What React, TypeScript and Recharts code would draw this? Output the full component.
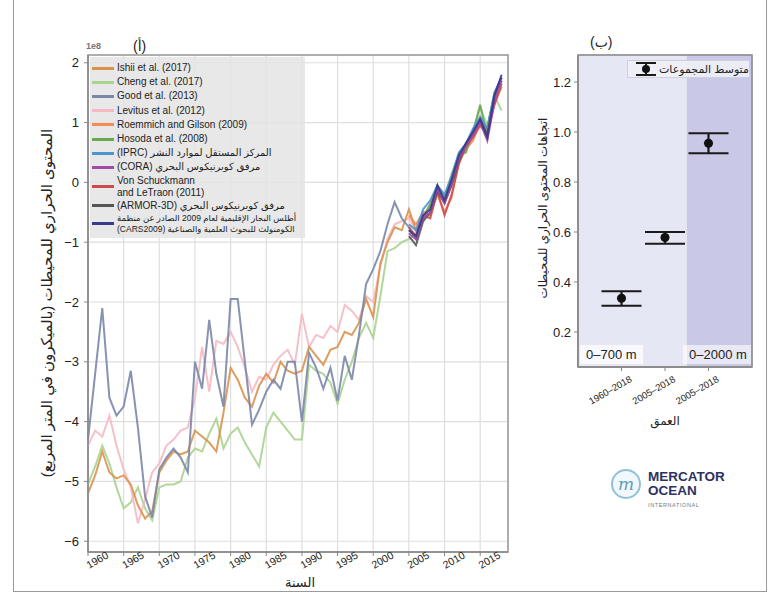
import React from "react";
import {
    LineChart, Line, XAxis, YAxis, CartesianGrid, ReferenceArea,
    ComposedChart, Scatter, ErrorBar,
} from "recharts";

const years = [
    1960, 1961, 1962, 1963, 1964, 1965, 1966, 1967, 1968, 1969,
    1970, 1971, 1972, 1973, 1974, 1975, 1976, 1977, 1978, 1979,
    1980, 1981, 1982, 1983, 1984, 1985, 1986, 1987, 1988, 1989,
    1990, 1991, 1992, 1993, 1994, 1995, 1996, 1997, 1998, 1999,
    2000, 2001, 2002, 2003, 2004, 2005, 2006, 2007, 2008, 2009,
    2010, 2011, 2012, 2013, 2014, 2015, 2016, 2017, 2018,
];

// long records, 1960-2018 (units of 1e8)
const ishii = [
    -5.2, -4.9, -4.5, -4.85, -4.95, -4.9, -5.05, -5.4, -5.62, -5.5,
    -4.85, -4.65, -4.5, -4.55, -4.5, -4.15, -4.25, -4.35, -4.5, -3.85,
    -3.1, -3.3, -3.6, -3.75, -3.4, -3.2, -3.35, -3.0, -3.15, -3.2,
    -3.15, -2.75, -2.9, -3.05, -2.8, -2.75, -2.5, -2.55, -2.35, -1.95,
    -2.25, -1.35, -1.0, -0.75, -0.8, -0.45, -0.8, -0.55, -0.4, -0.15,
    -0.3, 0.0, 0.4, 0.55, 0.8, 1.05, 0.85, 1.35, 1.6,
];
const cheng = [
    -5.05, -4.75, -4.4, -4.7, -5.1, -5.45, -5.35, -5.1, -5.45, -5.65,
    -5.1, -5.05, -5.05, -5.0, -4.6, -4.45, -4.5, -4.2, -3.95, -4.45,
    -4.2, -4.1, -4.35, -4.55, -4.75, -4.1, -3.85, -4.0, -4.15, -4.3,
    -4.3, -3.05, -3.15, -3.2, -3.35, -3.7, -3.3, -3.0, -2.6, -2.35,
    -2.6, -1.9, -1.15, -1.1, -1.0, -0.95, -0.85, -0.6, -0.4, -0.1,
    -0.25, 0.15, 0.45, 0.55, 0.85, 1.25, 0.95, 1.45, 1.2,
];
const good = [
    -4.3, -3.2, -2.1, -3.6, -3.9, -3.75, -3.15, -4.1, -5.25, -5.6,
    -4.8, -4.6, -4.45, -4.6, -4.85, -3.0, -3.45, -2.3, -3.2, -3.75,
    -1.95, -1.95, -3.0, -4.05, -3.8, -3.5, -3.3, -3.45, -3.0, -3.0,
    -4.0, -2.85, -3.1, -3.45, -3.1, -3.65, -2.9, -3.3, -2.55, -1.7,
    -1.45, -1.15, -0.7, -0.33, -0.6, -0.75, -0.95, -0.5, -0.55, -0.1,
    -0.3, 0.05, 0.45, 0.65, 0.85, 1.05, 0.9, 1.5, 1.75,
];
const levitus = [
    -4.4, -4.15, -4.25, -3.9, -4.4, -4.8, -5.1, -5.7, -5.3, -4.85,
    -4.7, -4.4, -4.3, -4.15, -4.1, -3.6, -2.75, -3.5, -2.65, -2.7,
    -2.5, -2.75, -3.1, -3.5, -3.25, -3.3, -3.05, -2.9, -2.8, -3.05,
    -2.2, -2.75, -2.55, -2.6, -2.4, -2.5, -2.05, -2.15, -2.3, -1.9,
    -2.0, -1.4, -0.95, -0.7, -0.65, -0.6, -0.8, -0.5, -0.45, -0.05,
    -0.3, 0.05, 0.45, 0.6, 0.8, 1.1, 0.85, 1.4, 1.65,
];

// Argo-era records, 2005-2018
const roemmich = [-0.55, -0.7, -0.5, -0.55, -0.2, -0.5, -0.25, 0.35, 0.55, 0.7, 1.0, 0.9, 1.3, 1.6];
const hosoda = [-0.8, -0.9, -0.6, -0.35, -0.05, -0.25, 0.1, 0.45, 0.5, 0.85, 1.3, 0.75, 1.45, 1.7];
const iprc = [-0.7, -0.8, -0.45, -0.3, -0.05, -0.2, 0.1, 0.5, 0.65, 0.9, 1.1, 0.9, 1.5, 1.75];
const cora = [-0.85, -0.95, -0.6, -0.5, -0.1, -0.35, 0.0, 0.4, 0.6, 0.8, 1.0, 0.7, 1.35, 1.7];
const vonSchuckmann = [-0.75, -0.9, -0.55, -0.6, -0.15, -0.55, -0.2, 0.3, 0.6, 0.75, 0.95, 0.8, 1.3, 1.65];
const armor = [-0.9, -1.05, -0.65, -0.5, -0.15, -0.35, -0.05, 0.35, 0.65, 0.8, 1.05, 0.8, 1.45, 1.75];
const cars = [-0.8, -0.9, -0.55, -0.45, -0.05, -0.3, 0.05, 0.45, 0.65, 0.85, 1.05, 0.75, 1.45, 1.8];

const yearTicks = [1960, 1965, 1970, 1975, 1980, 1985, 1990, 1995, 2000, 2005, 2010, 2015];
const heatTicks = [-6, -5, -4, -3, -2, -1, 0, 1, 2];

const trendLabels = ["1960–2018", "2005–2018", "2005–2018"];
const trendMean = [0.335, 0.578, 0.955];
const trendLow = [0.305, 0.553, 0.915];
const trendHigh = [0.363, 0.6, 0.995];
const trendTicks = [0.2, 0.4, 0.6, 0.8, 1.0, 1.2];

const series = [
    { key: "ishii", lines: ["Ishii et al. (2017)"], color: "#d9924c", values: ishii, start: 1960 },
    { key: "cheng", lines: ["Cheng et al. (2017)"], color: "#a9d38f", values: cheng, start: 1960 },
    { key: "good", lines: ["Good et al. (2013)"], color: "#7b86a8", values: good, start: 1960 },
    { key: "levitus", lines: ["Levitus et al. (2012)"], color: "#f5b9c3", values: levitus, start: 1960 },
    { key: "roemmich", lines: ["Roemmich and Gilson (2009)"], color: "#f28c52", values: roemmich, start: 2005 },
    { key: "hosoda", lines: ["Hosoda et al. (2008)"], color: "#6aa84f", values: hosoda, start: 2005 },
    { key: "iprc", lines: ["المركز المستقل لموارد النشر (IPRC)"], color: "#4b95d3", values: iprc, start: 2005, rtl: true },
    { key: "cora", lines: ["مرفق كوبرنيكوس البحري (CORA)"], color: "#a349a8", values: cora, start: 2005, rtl: true },
    { key: "von", lines: ["Von Schuckmann", "and LeTraon (2011)"], color: "#cf4b4b", values: vonSchuckmann, start: 2005 },
    { key: "armor", lines: ["مرفق كوبرنيكوس البحري (ARMOR-3D)"], color: "#555555", values: armor, start: 2005, rtl: true },
    { key: "cars", lines: ["أطلس البحار الإقليمية لعام 2009 الصادر عن منظمة", "الكومنولث للبحوث العلمية والصناعية (CARS2009)"], color: "#3a3a8c", values: cars, start: 2005, rtl: true, small: true },
];

const drawOrder = ["cheng", "levitus", "ishii", "good", "roemmich", "hosoda", "iprc", "von", "armor", "cora", "cars"];

const heatRows = years.map((year) => {
    const row: Record<string, number | null> = { year };
    series.forEach((s) => {
        const idx = year - s.start;
        row[s.key] = idx >= 0 && idx < s.values.length ? s.values[idx] : null;
    });
    return row;
});

const trendRows = trendLabels.map((label, i) => ({
    pos: i,
    mean: trendMean[i],
    err: [trendMean[i] - trendLow[i], trendHigh[i] - trendMean[i]],
}));

const FONT = "'Liberation Sans', 'DejaVu Sans', sans-serif";

const YearTick = ({ x, y, payload }: any) => (
    <text x={x + 1} y={y + 11} transform={`rotate(-30 ${x + 1} ${y + 11})`}
        fontSize={10.5} fill="#222" textAnchor="start" fontFamily={FONT}>
        {payload.value}
    </text>
);

const PeriodTick = ({ x, y, payload }: any) => (
    <text x={x + 11} y={y + 8} transform={`rotate(-30 ${x + 11} ${y + 8})`}
        fontSize={9.5} fill="#222" textAnchor="end" fontFamily={FONT}>
        {trendLabels[payload.value]}
    </text>
);

const fmtHeat = (v: number) => (v < 0 ? `\u2212${Math.abs(v)}` : `${v}`);

const HeatLegend = () => (
    <div style={{
        position: "absolute", left: 90, top: 57, width: 215,
        background: "rgba(228,228,228,0.85)", padding: "4px 0 3px 2px",
        boxSizing: "border-box", fontSize: 10, color: "#222",
    }}>
        {series.map((s) => (
            <div key={s.key} style={{ display: "flex", alignItems: "center" }}>
                <span style={{ width: 22, height: 3, background: s.color, marginRight: 3, flexShrink: 0 }} />
                <div dir={s.rtl ? "rtl" : "ltr"} style={{
                    textAlign: "left",
                    fontSize: s.small ? 8.5 : 10,
                    lineHeight: s.small ? "11px" : s.lines.length > 1 ? "12px" : "14.2px",
                    whiteSpace: "nowrap",
                }}>
                    {s.lines.map((l, i) => <div key={i}>{l}</div>)}
                </div>
            </div>
        ))}
    </div>
);

export default function App() {
    const byKey = Object.fromEntries(series.map((s) => [s.key, s]));
    return (
        <div style={{ position: "absolute", left: 0, top: 0, width: 781, height: 601, background: "#fff", fontFamily: FONT, overflow: "hidden" }}>
            <div style={{ position: "absolute", left: 13, top: -2, width: 754, height: 594, border: "1px solid #9a9a9a", boxSizing: "border-box" }} />

            <div style={{ position: "absolute", left: 0, top: 0 }}>
                <LineChart width={520} height={601} data={heatRows}
                    margin={{ top: 55, right: 12, bottom: 9, left: 28 }}>
                    <CartesianGrid stroke="#dedede" strokeWidth={1.2} />
                    <XAxis dataKey="year" type="number" domain={[1960, 2018.9]} ticks={yearTicks}
                        tick={<YearTick />} height={40} tickSize={4} interval={0}
                        axisLine={{ stroke: "#888", strokeWidth: 1.5 }} tickLine={{ stroke: "#888" }} />
                    <YAxis type="number" domain={[-6.18, 2.13]} ticks={heatTicks} width={60}
                        tickFormatter={fmtHeat} tickSize={4} tickMargin={5}
                        tick={{ fontSize: 13, fill: "#222", fontFamily: FONT }}
                        axisLine={{ stroke: "#888", strokeWidth: 1.5 }} tickLine={{ stroke: "#888" }} />
                    {drawOrder.map((k) => (
                        <Line key={k} dataKey={k} stroke={byKey[k].color} strokeWidth={2}
                            strokeOpacity={0.9} dot={false} connectNulls={false}
                            isAnimationActive={false} />
                    ))}
                    <ReferenceArea x1={1960} x2={2018.9} y1={-6.18} y2={2.13}
                        fill="none" stroke="#999" strokeWidth={1.5} />
                </LineChart>
            </div>
            <HeatLegend />
            <div style={{ position: "absolute", left: 86, top: 41, fontSize: 9, color: "#777", fontWeight: "bold" }}>1e8</div>
            <div style={{ position: "absolute", left: 133, top: 38, fontSize: 14, color: "#222" }}>(أ)</div>
            <div style={{
                position: "absolute", left: 47, top: 303, whiteSpace: "nowrap", fontSize: 15, color: "#222",
                transform: "translate(-50%, -50%) rotate(-90deg)",
            }}>المحتوى الحراري للمحيطات (بالميكرون في المتر المربع)</div>
            <div style={{ position: "absolute", left: 300, top: 582, transform: "translate(-50%, -50%)", fontSize: 13, color: "#222" }}>السنة</div>

            <div style={{ position: "absolute", left: 520, top: 0 }}>
                <ComposedChart width={261} height={430} data={trendRows}
                    margin={{ top: 55, right: 29, bottom: 18, left: 18 }}>
                    <ReferenceArea x1={-1} x2={1.5} y1={0.06} y2={1.308} fill="#e6e7f5" fillOpacity={1} />
                    <ReferenceArea x1={1.5} x2={3} y1={0.06} y2={1.308} fill="#c9c9e7" fillOpacity={1} />
                    <CartesianGrid stroke="#b9b9c9" strokeWidth={1} />
                    <XAxis dataKey="pos" type="number" domain={[-1, 3]} ticks={[0, 1, 2]} interval={0}
                        tick={<PeriodTick />} height={45} tickSize={4}
                        axisLine={{ stroke: "#888", strokeWidth: 1.5 }} tickLine={{ stroke: "#888" }} />
                    <YAxis type="number" domain={[0.06, 1.308]} ticks={trendTicks} width={40}
                        tickFormatter={(v: number) => v.toFixed(1)} tickSize={4} tickMargin={3}
                        tick={{ fontSize: 13, fill: "#222", fontFamily: FONT }}
                        axisLine={{ stroke: "#888", strokeWidth: 1.5 }} tickLine={{ stroke: "#888" }} />
                    <Scatter dataKey="mean" fill="#111" isAnimationActive={false}>
                        <ErrorBar dataKey="err" direction="y" width={20} strokeWidth={2.2} stroke="#1a1a1a" />
                    </Scatter>
                    <ReferenceArea x1={-1} x2={3} y1={0.06} y2={1.308} fill="none" stroke="#888" strokeWidth={1.5} />
                </ComposedChart>
            </div>
            <div style={{ position: "absolute", left: 580, top: 345, width: 63, height: 19, background: "rgba(255,255,255,0.75)", fontSize: 13, lineHeight: "19px", paddingLeft: 6, boxSizing: "border-box", color: "#222" }}>0–700 m</div>
            <div style={{ position: "absolute", left: 683, top: 345, width: 68, height: 19, background: "rgba(255,255,255,0.6)", fontSize: 13, lineHeight: "19px", paddingLeft: 6, boxSizing: "border-box", color: "#222" }}>0–2000 m</div>
            <div style={{ position: "absolute", left: 627, top: 60, width: 123, height: 18, background: "rgba(240,240,248,0.9)", border: "1px solid #cfcfdc", boxSizing: "border-box", display: "flex", alignItems: "center", justifyContent: "space-between" }}>
                <svg width={26} height={16} style={{ marginLeft: 5, flexShrink: 0, display: "block" }}>
                    <line x1={3} y1={2} x2={23} y2={2} stroke="#1a1a1a" strokeWidth={2} />
                    <line x1={3} y1={14} x2={23} y2={14} stroke="#1a1a1a" strokeWidth={2} />
                    <line x1={13} y1={2} x2={13} y2={14} stroke="#1a1a1a" strokeWidth={2} />
                    <circle cx={13} cy={8} r={4} fill="#111" />
                </svg>
                <span dir="rtl" style={{ fontSize: 11, marginRight: 4, color: "#222", whiteSpace: "nowrap" }}>متوسط المجموعات</span>
            </div>
            <div style={{ position: "absolute", left: 590, top: 34, fontSize: 14, color: "#222" }}>(ب)</div>
            <div style={{
                position: "absolute", left: 543, top: 208, whiteSpace: "nowrap", fontSize: 12, color: "#222",
                transform: "translate(-50%, -50%) rotate(-90deg)",
            }}>اتجاهات المحتوى الحراري للمحيطات</div>
            <div style={{ position: "absolute", left: 665, top: 421, transform: "translate(-50%, -50%)", fontSize: 12, color: "#222" }}>العمق</div>

            <svg width={150} height={60} style={{ position: "absolute", left: 600, top: 460 }}>
                <circle cx={26} cy={24} r={14} fill="#f1f7fa" stroke="#8fc2d6" strokeWidth={2} />
                <text x={26} y={30} textAnchor="middle" fontSize={17} fontStyle="italic" fill="#5f9fbf" fontFamily="'DejaVu Serif', serif">m</text>
                <text x={48} y={21} fontSize={13.5} fontWeight="bold" fill="#2c3263" fontFamily={FONT}>MERCATOR</text>
                <text x={48} y={35} fontSize={13.5} fontWeight="bold" fill="#2c3263" fontFamily={FONT}>OCEAN</text>
                <text x={48} y={47} fontSize={5.5} fill="#777" letterSpacing={0.6} fontFamily={FONT}>INTERNATIONAL</text>
            </svg>
        </div>
    );
}
